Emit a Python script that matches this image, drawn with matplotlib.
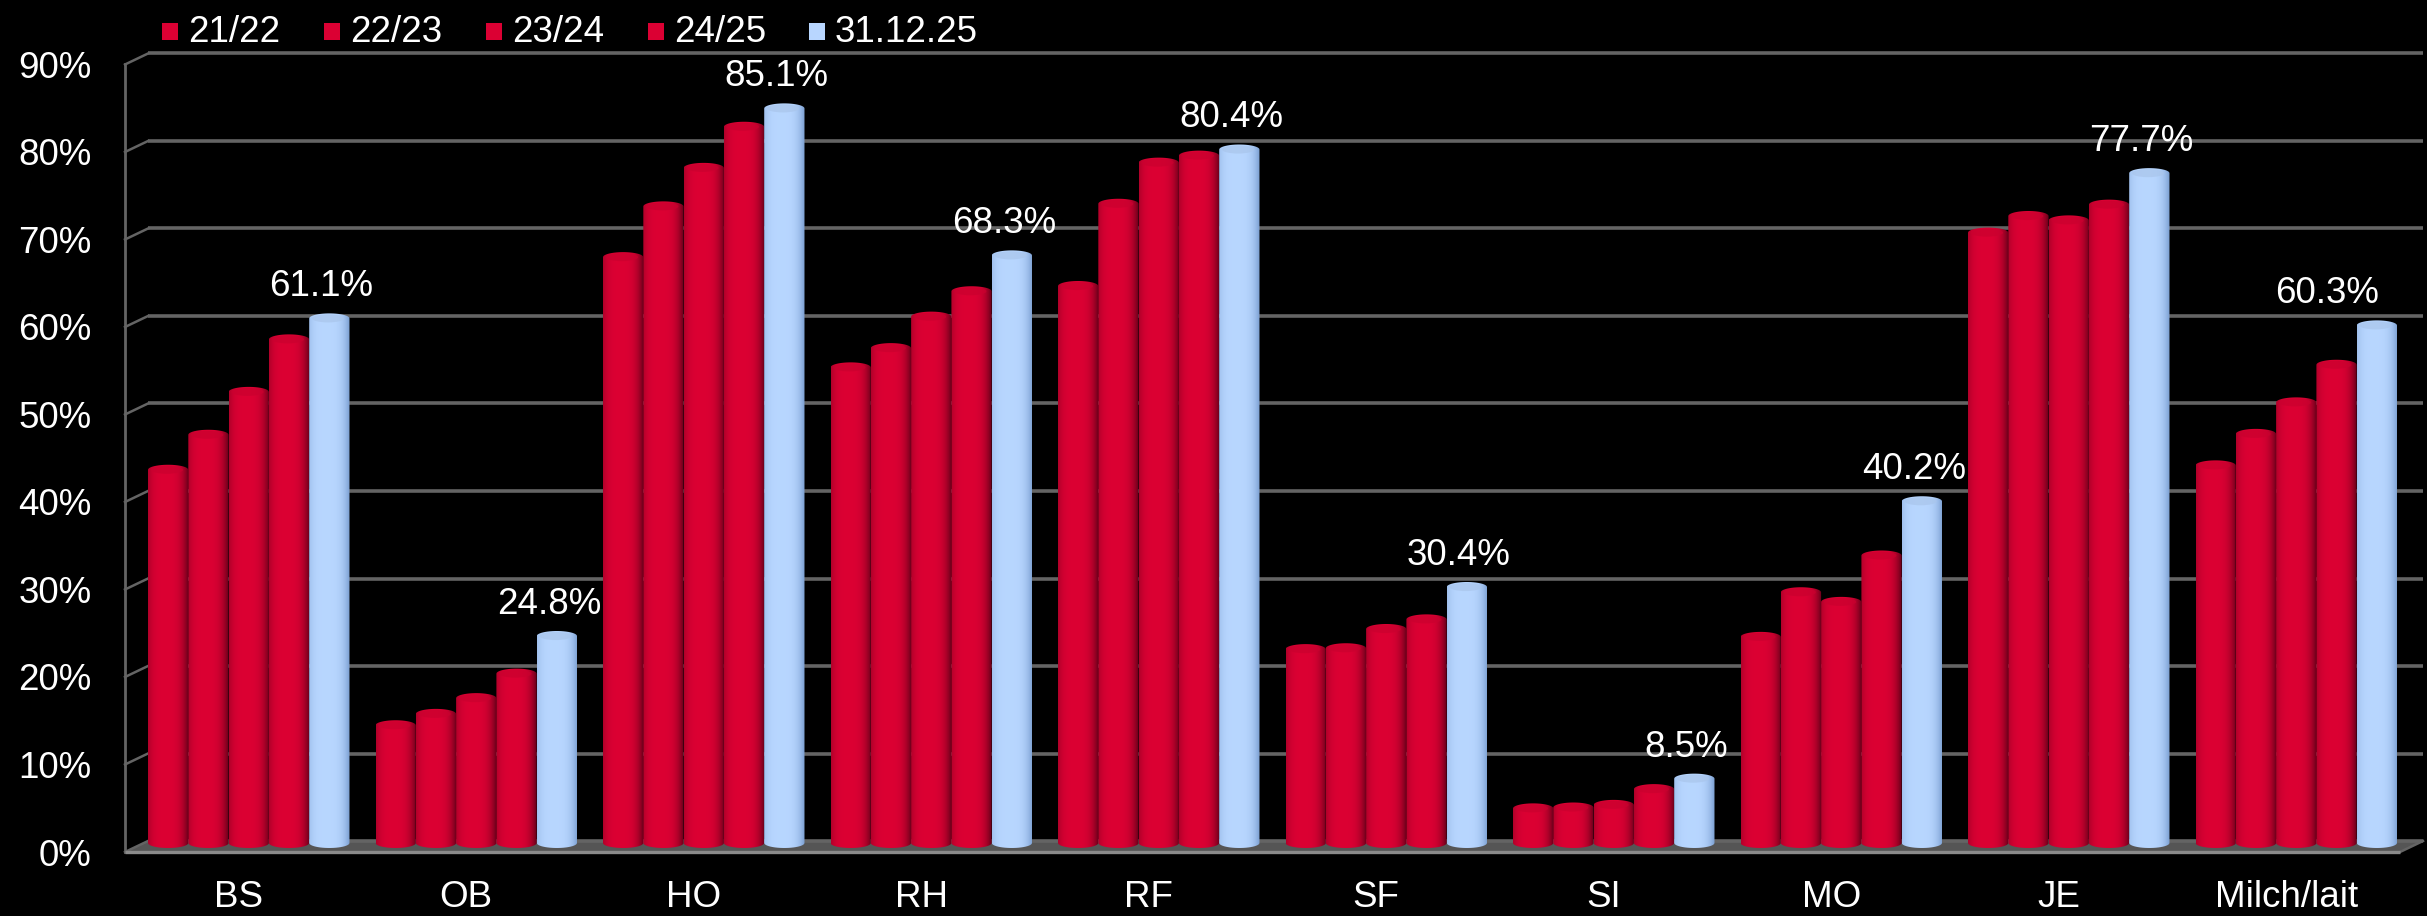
"""Share of organic milk per region, cylinder style column chart."""

import matplotlib

matplotlib.use("Agg")
import matplotlib.pyplot as plt
import numpy as np
from matplotlib.patches import Ellipse, Polygon, Rectangle
from matplotlib.transforms import Affine2D

categories = ["BS", "OB", "HO", "RH", "RF", "SF", "SI", "MO", "JE", "Milch/lait"]
series_labels = ["21/22", "22/23", "23/24", "24/25", "31.12.25"]
y_ticks = [0, 10, 20, 30, 40, 50, 60, 70, 80, 90]

v_2122 = [43.8, 14.6, 68.1, 55.5, 64.8, 23.3, 5.1, 24.7, 70.9, 44.3]
v_2223 = [47.8, 15.9, 73.9, 57.7, 74.2, 23.4, 5.2, 29.8, 72.8, 47.9]
v_2324 = [52.7, 17.7, 78.3, 61.3, 78.9, 25.6, 5.5, 28.7, 72.3, 51.5]
v_2425 = [58.7, 20.5, 83.0, 64.2, 79.7, 26.7, 7.3, 34.0, 74.1, 55.8]
v_dec25 = [61.1, 24.8, 85.1, 68.3, 80.4, 30.4, 8.5, 40.2, 77.7, 60.3]
all_series = [v_2122, v_2223, v_2324, v_2425, v_dec25]

W, H = 2427, 916
DPI = 100
FONT = "Liberation Sans"
FS = 26.5

RED_EDGE, RED_MID = np.array([0.40, 0.0, 0.10]), np.array([0.86, 0.0, 0.20])
BLUE_EDGE, BLUE_MID = np.array([0.48, 0.62, 0.82]), np.array([0.72, 0.84, 1.0])


def cylinder_colors(edge, mid, n=40):
    """Horizontal shading across a bar, brightest a little left of centre."""
    t = np.linspace(-1, 1, n)
    w = np.clip(1 - (np.abs(t + 0.15) / 1.15) ** 3.5, 0, 1)[:, None]
    return (edge * (1 - w) + mid * w)[None, :, :]


def cylinder_outline(x0, width, height, cap):
    """Bar outline with a half ellipse at the top and at the foot."""
    a = np.linspace(0, np.pi, 24)
    cx = x0 + width / 2
    xs = cx + np.cos(a) * width / 2
    upper = np.column_stack([xs, height - cap / 2 + np.sin(a) * cap / 2])
    lower = np.column_stack([xs[::-1], cap / 2 - np.sin(a) * cap / 2])
    return np.vstack([upper, lower])


fig = plt.figure(figsize=(W / DPI, H / DPI), dpi=DPI, facecolor="black")
# axes box = front edge of the chart floor, in pixels
left, right, floor, top = 125, 2400, 852, 64.5
ax = fig.add_axes([left / W, 1 - floor / H, (right - left) / W, (floor - top) / H], facecolor="none")
ax.set_xlim(-0.5, len(categories) - 0.5)
ax.set_ylim(0, 90)

# pixel offsets for the fake 3D depth
back_tr = ax.transData + Affine2D().translate(23, 11)
bar_tr = ax.transData + Affine2D().translate(10, 4)
dx_depth, dy_depth = 23 / 227.5, 11 / 8.75

GRID = "#646464"
# floor
ax.add_patch(Polygon([(-0.5, 0), (9.5, 0), (9.5 + dx_depth, dy_depth), (-0.5 + dx_depth, dy_depth)],
                     closed=True, facecolor="#555555", edgecolor="none", zorder=1, clip_on=False))
# back wall gridlines and depth ticks
for v in y_ticks:
    ax.plot([-0.5, 9.5], [v, v], color=GRID, lw=2.6, transform=back_tr, zorder=1,
            solid_capstyle="butt", clip_on=False)
    ax.plot([-0.5, -0.5 + dx_depth], [v, v + dy_depth], color=GRID, lw=1.8, zorder=1, clip_on=False)
ax.plot([-0.5, -0.5], [0, 90], color=GRID, lw=2, zorder=1, clip_on=False)
ax.plot([-0.5, 9.5], [0, 0], color="#8a8a8a", lw=2.4, zorder=5, solid_capstyle="butt", clip_on=False)
ax.plot([9.5, 9.5 + dx_depth], [0, dy_depth], color=GRID, lw=1.8, zorder=1, clip_on=False)

bar_w = 40.3 / 227.5
cap_h = 1.15
for s, values in enumerate(all_series):
    is_last = s == len(all_series) - 1
    edge, mid = (BLUE_EDGE, BLUE_MID) if is_last else (RED_EDGE, RED_MID)
    img = cylinder_colors(edge, mid)
    for i, v in enumerate(values):
        x0 = i - 2.5 * bar_w + s * bar_w
        z = 2 + s * 0.01
        im = ax.imshow(img, extent=(x0, x0 + bar_w, 0, v), aspect="auto", zorder=z,
                       interpolation="bilinear", transform=bar_tr)
        im.set_clip_path(Polygon(cylinder_outline(x0, bar_w, v, cap_h), closed=True, transform=bar_tr))
        # soft cap, only a faint change from the body
        ax.add_patch(Ellipse((x0 + bar_w * 0.47, v - cap_h / 2), bar_w * 0.8, cap_h * 0.8, facecolor=mid * 0.92,
                             edgecolor="none", alpha=0.7, transform=bar_tr, zorder=z + 0.001))

ax.set_xlim(-0.5, len(categories) - 0.5)
ax.set_ylim(0, 90)

# value labels on the last series, the rightmost one is pushed inwards
for i, v in enumerate(v_dec25):
    x = i + 2 * bar_w
    dx = -40 if i == len(v_dec25) - 1 else 2
    ax.annotate(f"{v:.1f}%", (x, v), xytext=(dx, 13), textcoords="offset pixels", ha="center", va="bottom",
                color="white", fontsize=FS, family=FONT, zorder=10, annotation_clip=False)

ax.set_xticks(range(len(categories)), categories)
ax.set_yticks(y_ticks, [f"{v}%" for v in y_ticks])
ax.tick_params(axis="both", length=0, labelcolor="white", labelsize=FS)
ax.tick_params(axis="x", pad=20)
ax.tick_params(axis="y", pad=24)
for label in ax.get_xticklabels() + ax.get_yticklabels():
    label.set_family(FONT)
for spine in ax.spines.values():
    spine.set_visible(False)

# legend
legend_x = [162, 324, 486, 648, 809]
legend_colors = [RED_MID] * 4 + [BLUE_MID]
for name, lx, c in zip(series_labels, legend_x, legend_colors):
    fig.add_artist(Rectangle((lx / W, 1 - 40 / H), 16 / W, 17 / H, transform=fig.transFigure, facecolor=c,
                             edgecolor="none"))
    fig.text((lx + 26) / W, 1 - 32 / H, name, color="white", fontsize=FS, family=FONT, ha="left", va="center")

fig.savefig("out.png", dpi=DPI, facecolor="black")
